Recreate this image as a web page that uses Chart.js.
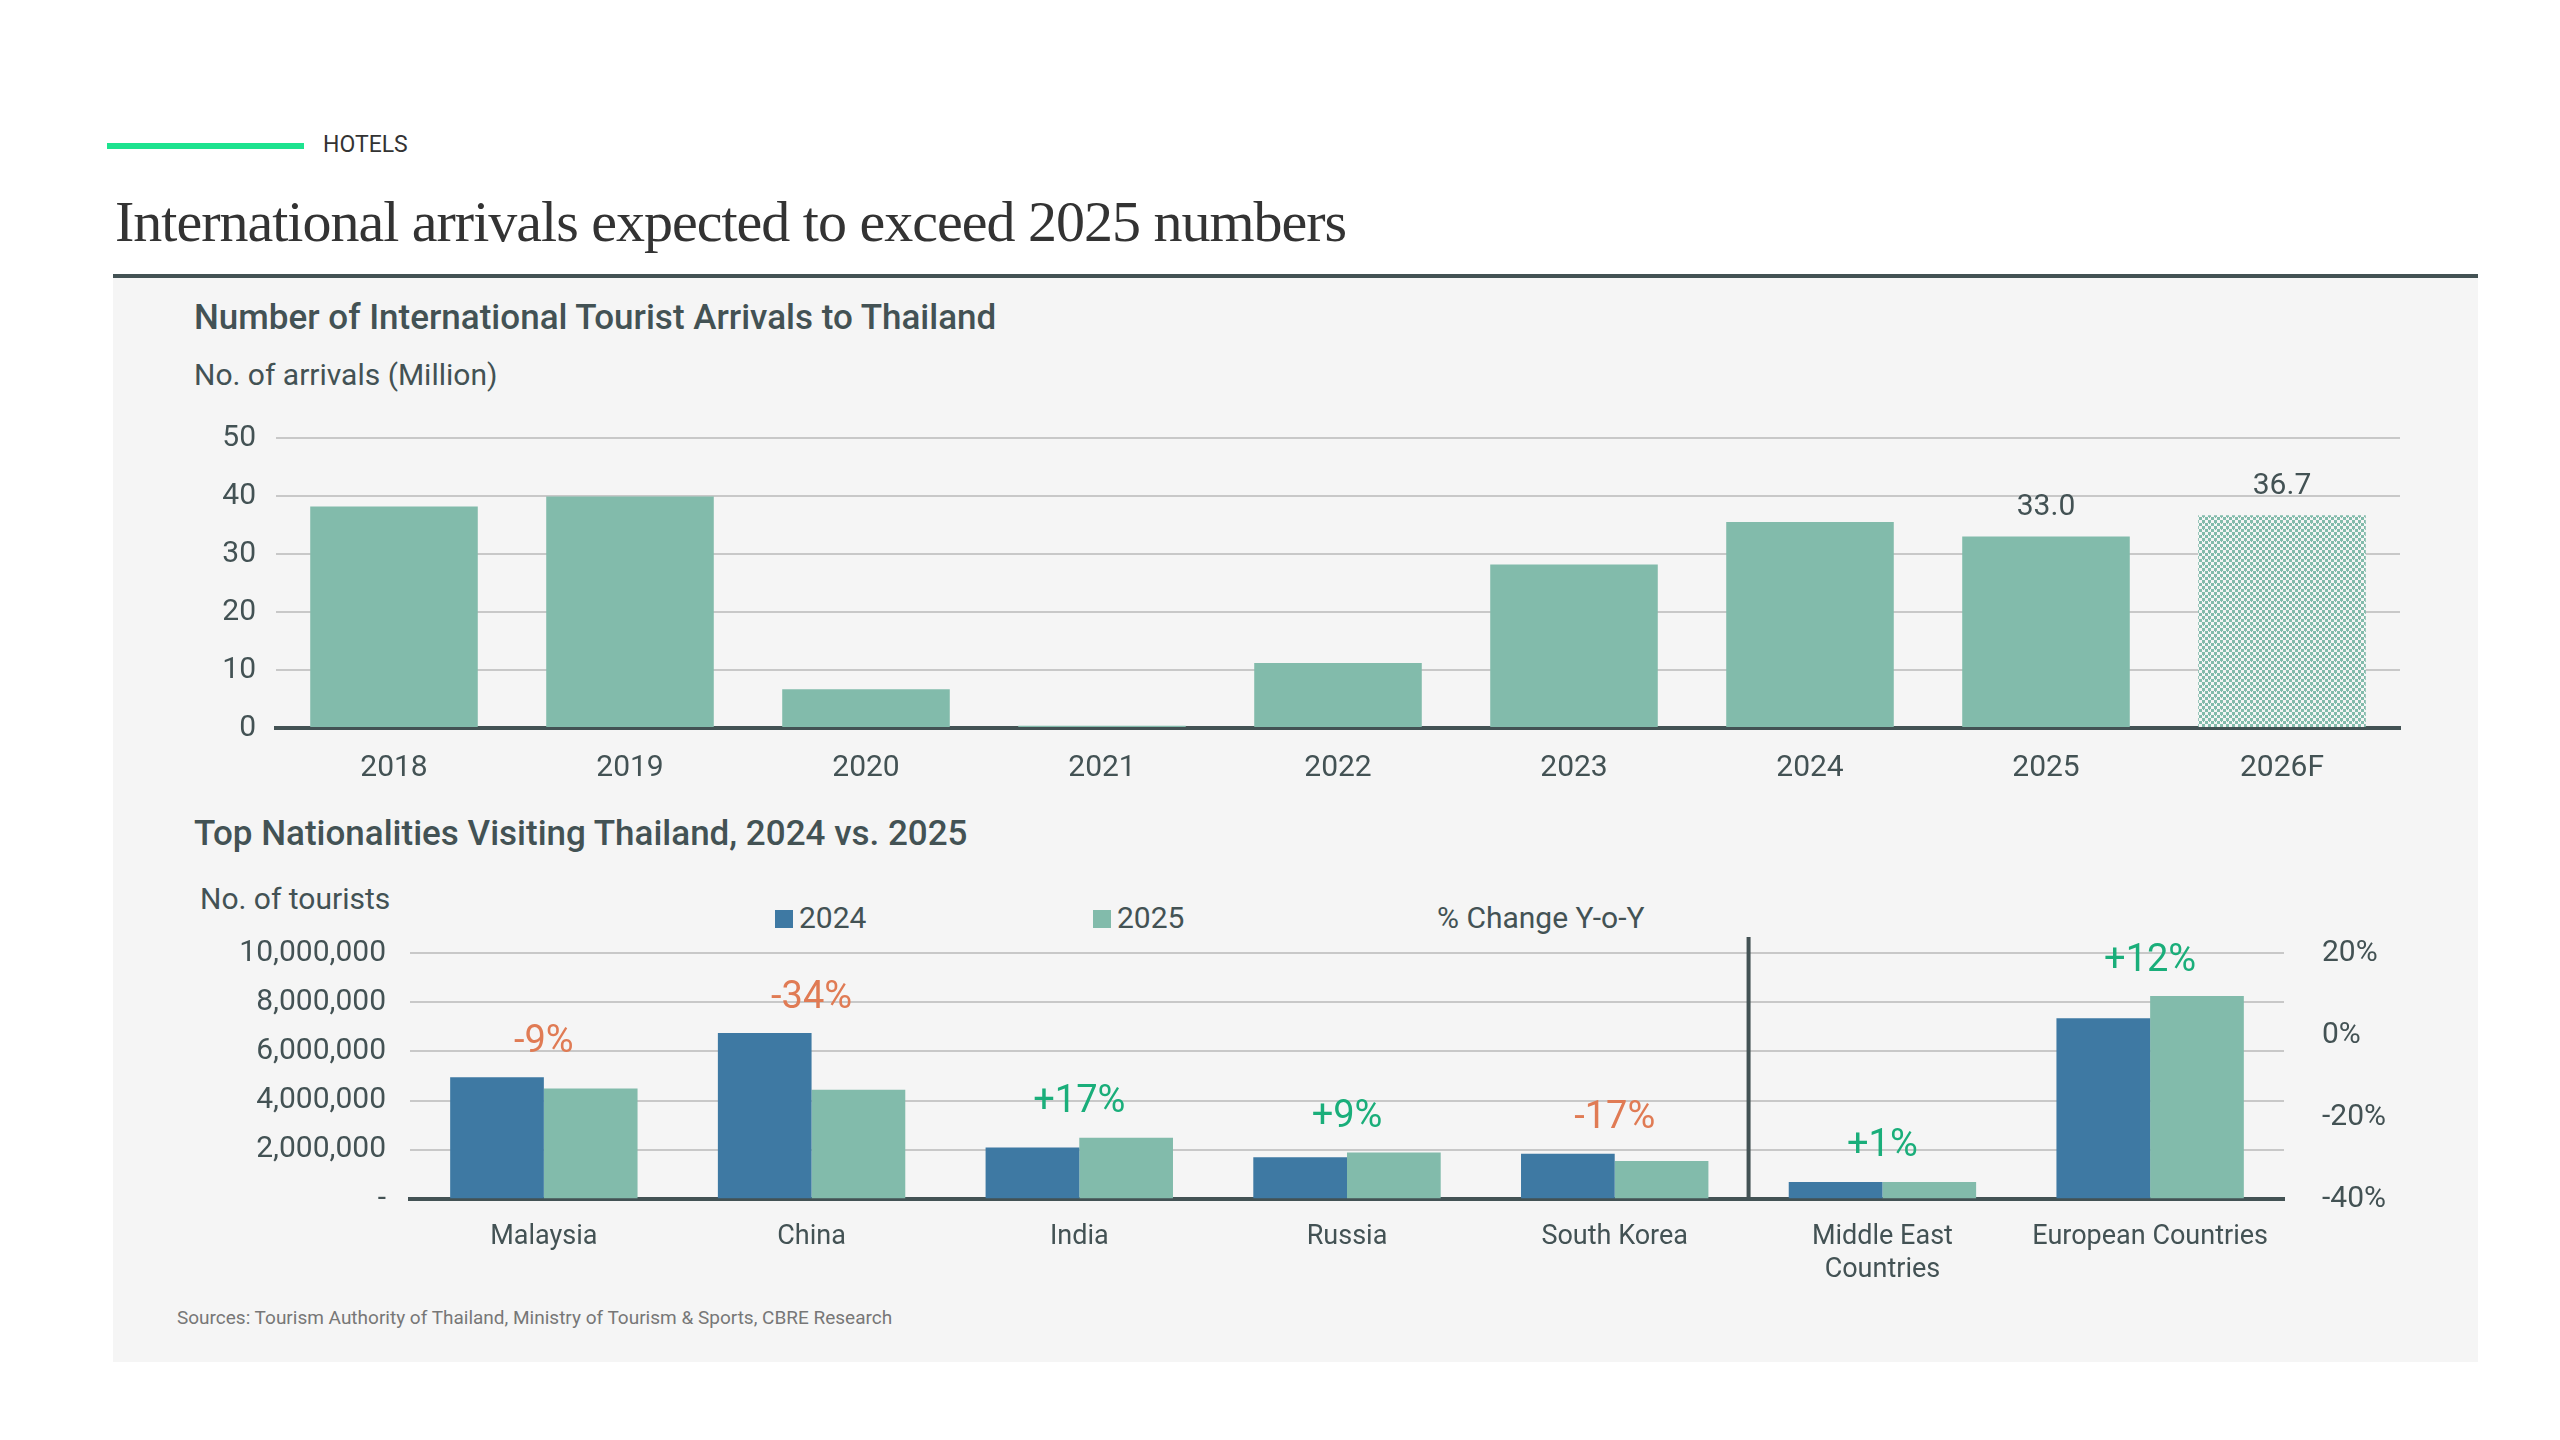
<!DOCTYPE html>
<html><head><meta charset="utf-8">
<script src="https://cdn.jsdelivr.net/npm/chart.js@4"></script>
<style>
body{margin:0;width:2560px;height:1440px;background:#fff;font-family:Roboto,sans-serif;color:#435254;position:relative;overflow:hidden}
.a{position:absolute;white-space:nowrap}
</style></head><body>
<div class="a" style="left:107px;top:143px;width:197px;height:6px;background:#1de38f"></div>
<div class="a" style="left:323px;top:131px;font-size:23px;color:#333">HOTELS</div>
<div class="a" style="left:115px;top:188px;font-family:'Liberation Serif',serif;font-size:58px;color:#333;letter-spacing:-1px">International arrivals expected to exceed 2025 numbers</div>
<div class="a" style="left:113px;top:274px;width:2365px;height:4px;background:#435254"></div>
<div class="a" style="left:113px;top:278px;width:2365px;height:1084px;background:#f5f5f5"></div>
<div class="a" style="left:194px;top:297px;font-size:35px;font-weight:500">Number of International Tourist Arrivals to Thailand</div>
<div class="a" style="left:194px;top:357px;font-size:30px">No. of arrivals (Million)</div>
<div class="a" style="left:194px;top:813px;font-size:35px;font-weight:500">Top Nationalities Visiting Thailand, 2024 vs. 2025</div>
<div class="a" style="left:200px;top:881px;font-size:30px">No. of tourists</div>
<div class="a" style="left:775px;top:900px;font-size:30px"><span style="display:inline-block;width:18px;height:18px;background:#3e79a3;margin-right:6px"></span>2024</div>
<div class="a" style="left:1093px;top:900px;font-size:30px"><span style="display:inline-block;width:18px;height:18px;background:#82bbab;margin-right:6px"></span>2025</div>
<div class="a" style="left:1437px;top:900px;font-size:30px">% Change Y-o-Y</div>
<div class="a" style="left:177px;top:1306px;font-size:19px;color:#777">Sources: Tourism Authority of Thailand, Ministry of Tourism &amp; Sports, CBRE Research</div>
<canvas id="c1" class="a" style="left:180px;top:400px"></canvas>
<canvas id="c2" class="a" style="left:180px;top:900px"></canvas>
<script>
const years=['2018','2019','2020','2021','2022','2023','2024','2025','2026F'];
const arrivals=[38.2,39.9,6.7,0.4,11.2,28.2,35.5,33.0,36.7];
const arrivalLabels=['','','','','','','','33.0','36.7'];
const countries=[['Malaysia'],['China'],['India'],['Russia'],['South Korea'],['Middle East','Countries'],['European Countries']];
const t2024=[4950000,6750000,2100000,1700000,1850000,700000,7350000];
const t2025=[4500000,4450000,2500000,1900000,1550000,700000,8250000];
const pctChange=['-9%','-34%','+17%','+9%','-17%','+1%','+12%'];

const TEAL='#82bbab',BLUE='#3e79a3',DARK='#435254',GRID='#c8c8c8';
Chart.defaults.font.family='Roboto, sans-serif';
Chart.defaults.color=DARK;
Chart.defaults.animation=false;

const pc=document.createElement('canvas');pc.width=6;pc.height=6;
const px=pc.getContext('2d');px.fillStyle='#f5f5f5';px.fillRect(0,0,6,6);
px.fillStyle=TEAL;px.fillRect(0,0,3,3);px.fillRect(3,3,3,3);px.fillRect(1,3,1,1);
const pat=px.createPattern?null:null;
const pattern=document.createElement('canvas').getContext('2d').createPattern(pc,'repeat');

function sizeCanvas(id,w,h){const c=document.getElementById(id);c.style.width=w+'px';c.style.height=h+'px';c.width=w;c.height=h;return c;}

const c1=sizeCanvas('c1',2240,400);
new Chart(c1,{type:'bar',
 data:{labels:years,datasets:[{data:arrivals,backgroundColor:arrivals.map((v,i)=>i===arrivals.length-1?pattern:TEAL),categoryPercentage:1,barPercentage:0.71}]},
 options:{responsive:false,devicePixelRatio:1,layout:{padding:{top:30,right:20}},
  plugins:{legend:{display:false},tooltip:{enabled:false}},
  scales:{
   x:{grid:{display:false},border:{color:DARK,width:4},ticks:{font:{size:30},padding:14}},
   y:{min:0,max:50,ticks:{stepSize:10,font:{size:30},padding:20},grid:{color:GRID,lineWidth:2,drawTicks:false},border:{display:false},afterFit(s){s.width=96;}}
  }},
 plugins:[{id:'vl',afterDatasetsDraw(ch){const ctx=ch.ctx;const m=ch.getDatasetMeta(0);ctx.save();ctx.font='30px Roboto';ctx.fillStyle=DARK;ctx.textAlign='center';ctx.textBaseline='bottom';
   m.data.forEach((b,i)=>{if(arrivalLabels[i])ctx.fillText(arrivalLabels[i],b.x,b.y-14);});ctx.restore();}}]
});

const c2=sizeCanvas('c2',2224,400);
new Chart(c2,{type:'bar',
 data:{labels:countries,datasets:[
  {data:t2024,backgroundColor:BLUE,categoryPercentage:0.7,barPercentage:1},
  {data:t2025,backgroundColor:TEAL,categoryPercentage:0.7,barPercentage:1}]},
 options:{responsive:false,devicePixelRatio:1,layout:{padding:{top:53}},
  plugins:{legend:{display:false},tooltip:{enabled:false}},
  scales:{
   x:{grid:{display:false},border:{color:DARK,width:4},ticks:{font:{size:27},padding:14}},
   y:{min:0,max:10000000,ticks:{stepSize:2000000,font:{size:30},padding:24,callback:v=>v===0?'-':v.toLocaleString('en-US')},grid:{color:GRID,lineWidth:2,drawTicks:false},border:{display:false},afterFit(s){s.width=230;}},
   y2:{position:'right',min:-40,max:20,ticks:{stepSize:20,font:{size:30},padding:30,callback:v=>v+'%'},grid:{display:false},border:{display:false},afterFit(s){s.width=120;}}
  }},
 plugins:[{id:'pl',afterDatasetsDraw(ch){const ctx=ch.ctx;const m0=ch.getDatasetMeta(0),m1=ch.getDatasetMeta(1);ctx.save();
   ctx.font='38px Roboto';ctx.textAlign='center';ctx.textBaseline='bottom';
   pctChange.forEach((t,i)=>{const a=m0.data[i],b=m1.data[i];const top=Math.min(a.y,b.y);
     ctx.fillStyle=t[0]==='-'?'#e07b54':'#1aae7a';ctx.fillText(t,(a.x+b.x)/2,top-16);});
   const xs=ch.scales.x;const xd=(xs.getPixelForValue(4)+xs.getPixelForValue(5))/2;
   ctx.strokeStyle=DARK;ctx.lineWidth=4;ctx.beginPath();ctx.moveTo(xd,ch.chartArea.top-16);ctx.lineTo(xd,ch.chartArea.bottom);ctx.stroke();
   ctx.restore();}}]
});
</script>
</body></html>
